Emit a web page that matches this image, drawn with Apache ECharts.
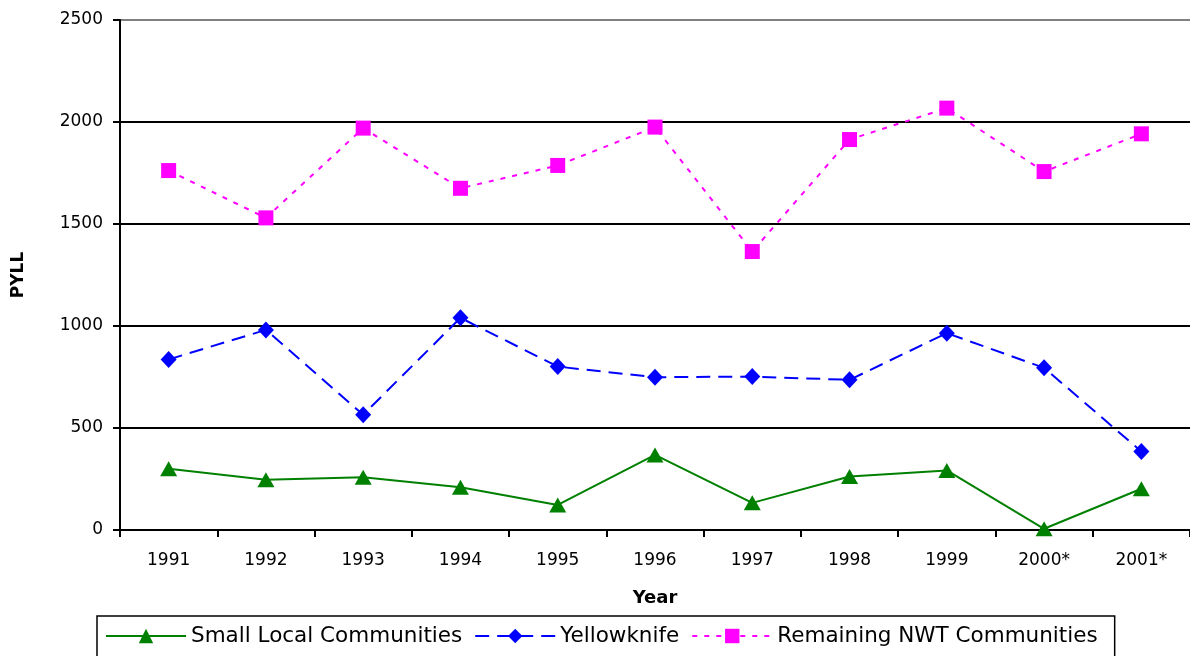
<!DOCTYPE html>
<html>
<head>
<meta charset="utf-8">
<script src="https://cdn.jsdelivr.net/npm/echarts@6/dist/echarts.min.js"></script>
<style>
  html, body { margin: 0; padding: 0; background: #fff; }
  #chart { width: 1190px; height: 656px; }
</style>
</head>
<body>
<div id="chart"></div>
<script>
// data
var years = ['1991', '1992', '1993', '1994', '1995', '1996', '1997', '1998', '1999', '2000*', '2001*'];
var smallLocal = [300, 246, 259, 210, 123, 368, 133, 262, 292, 6, 202];
var yellowknife = [836, 981, 565, 1040, 801, 749, 752, 736, 965, 795, 385];
var remainingNWT = [1762, 1530, 1970, 1675, 1787, 1975, 1365, 1914, 2068, 1757, 1942];
var yTicks = [0, 500, 1000, 1500, 2000, 2500];

var font = 'DejaVu Sans';
var chart = echarts.init(document.getElementById('chart'));

var option = {
  animation: false,
  backgroundColor: '#fff',
  textStyle: { fontFamily: font, color: '#000' },
  // 绘图区域，右侧超出画布被裁掉
  grid: { left: 120, top: 20, width: 1078, height: 510, containLabel: false },
  legend: {
    left: 97,
    top: 616,
    padding: [9, 17, 20, 8],
    itemGap: 12,
    itemWidth: 80,
    itemHeight: 18,
    borderColor: '#000',
    borderWidth: 1.5,
    textStyle: { fontFamily: font, fontSize: 21.5, color: '#000' },
    data: ['Small Local Communities', 'Yellowknife', 'Remaining NWT Communities']
  },
  xAxis: {
    type: 'category',
    data: years,
    boundaryGap: true,
    name: 'Year',
    nameLocation: 'middle',
    nameGap: 59,
    nameTextStyle: { fontFamily: font, fontSize: 18, fontWeight: 'bold', color: '#000' },
    axisLine: { show: true, lineStyle: { color: '#000', width: 2 } },
    axisTick: { show: true, length: 7, lineStyle: { color: '#000', width: 2 } },
    axisLabel: { margin: 22, fontFamily: font, fontSize: 17, color: '#000' },
    splitLine: { show: false }
  },
  yAxis: {
    type: 'value',
    min: yTicks[0],
    max: yTicks[yTicks.length - 1],
    interval: 500,
    name: 'PYLL',
    nameLocation: 'middle',
    nameGap: 93,
    nameTextStyle: { fontFamily: font, fontSize: 17, fontWeight: 'bold', color: '#000' },
    axisLine: { show: true, lineStyle: { color: '#000', width: 2 } },
    axisTick: { show: true, length: 7, lineStyle: { color: '#000', width: 2 } },
    axisLabel: {
      margin: 17, fontFamily: font, fontSize: 17, color: '#000',
      formatter: function (v) { return String(v); }
    },
    splitLine: {
      show: true,
      lineStyle: { color: ['#000', '#000', '#000', '#000', '#000', '#808080'], width: 2 }
    }
  },
  series: [
    {
      name: 'Small Local Communities',
      type: 'line',
      data: smallLocal,
      symbol: 'triangle',
      symbolSize: [17, 15],
      itemStyle: { color: '#008000' },
      lineStyle: { color: '#008000', width: 2 },
      z: 4
    },
    {
      name: 'Yellowknife',
      type: 'line',
      data: yellowknife,
      symbol: 'diamond',
      symbolSize: [16, 17],
      itemStyle: { color: '#0000ff' },
      lineStyle: { color: '#0000ff', width: 2, type: [14, 8] },
      z: 3
    },
    {
      name: 'Remaining NWT Communities',
      type: 'line',
      data: remainingNWT,
      symbol: 'rect',
      symbolSize: 15,
      itemStyle: { color: '#ff00ff' },
      lineStyle: { color: '#ff00ff', width: 2, type: [5, 7] },
      z: 2
    }
  ]
};
chart.setOption(option);
</script>
</body>
</html>
